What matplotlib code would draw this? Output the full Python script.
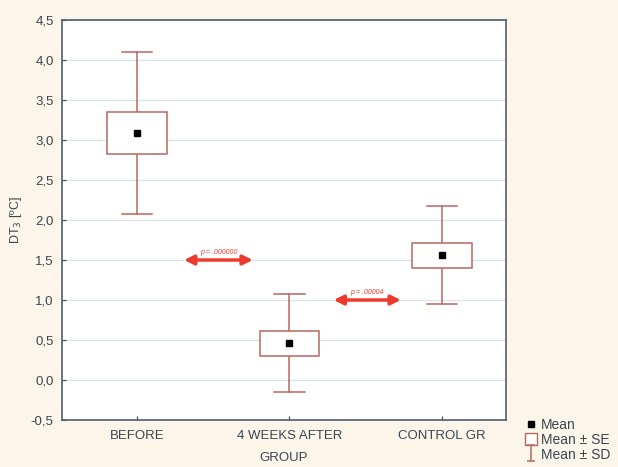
import matplotlib.pyplot as plt
from matplotlib.lines import Line2D
from matplotlib.patches import Rectangle, Patch
from matplotlib.path import Path

groups = ['BEFORE', '4 WEEKS AFTER', 'CONTROL GR']
means = [3.09, 0.46, 1.56]
se = [0.26, 0.155, 0.155]
sd = [1.01, 0.61, 0.61]

# significance arrows: (x start, x end, y level, label)
comparisons = [(1.31, 1.76, 1.5, 'p = .000000'), (2.29, 2.73, 1.0, 'p = .00004')]

plt.rcParams['font.family'] = ['Liberation Sans', 'DejaVu Sans']
box_col = '#b8675e'
txt_col = '#3a4550'
red = '#ee3a2c'

fig = plt.figure(figsize=(6.18, 4.67), dpi=100, facecolor='#fcf6ea')
ax = fig.add_axes([0.1003, 0.1006, 0.7187, 0.8565])
ax.set_facecolor('white')

box_w = 0.39
cap_w = 0.2
for i, (m, s, d) in enumerate(zip(means, se, sd)):
    x = i + 1
    ax.plot([x, x], [m + s, m + d], color=box_col, lw=1.1, zorder=3)
    ax.plot([x, x], [m - d, m - s], color=box_col, lw=1.1, zorder=3)
    ax.plot([x - cap_w / 2, x + cap_w / 2], [m + d, m + d], color=box_col, lw=1.1, zorder=3)
    ax.plot([x - cap_w / 2, x + cap_w / 2], [m - d, m - d], color=box_col, lw=1.1, zorder=3)
    ax.add_patch(Rectangle((x - box_w / 2, m - s), box_w, 2 * s, facecolor='white',
                           edgecolor=box_col, lw=1.1, zorder=3))
    ax.plot(x, m, 's', color='black', ms=5, zorder=4)

for x0, x1, y, lab in comparisons:
    ax.annotate('', xy=(x1, y), xytext=(x0, y),
                arrowprops=dict(arrowstyle='<|-|>', color=red, lw=2.5, mutation_scale=14,
                                shrinkA=0, shrinkB=0), zorder=5)
    ax.text((x0 + x1) / 2, y + 0.05, lab, color=red, fontsize=5, style='italic',
            ha='center', va='bottom', zorder=5)

ax.set_xlim(0.51, 3.42)
ax.set_ylim(-0.5, 4.5)
ax.set_xticks([1, 2, 3])
ax.set_xticklabels(groups)
yt = [-0.5 + 0.5 * k for k in range(11)]
ax.set_yticks(yt)
ax.set_yticklabels([('%.1f' % v).replace('.', ',') for v in yt])
ax.yaxis.grid(True, color='#d5e3ea', lw=0.8)
ax.set_axisbelow(True)
ax.tick_params(direction='in', length=3, colors=txt_col, labelsize=9.5, pad=6)
ax.tick_params(axis='x', pad=7.5)
for sp in ax.spines.values():
    sp.set_color('#4e5f6e')
    sp.set_linewidth(1.2)

ax.set_xlabel('GROUP', color=txt_col, fontsize=9.5, labelpad=7)
ax.set_ylabel('DT$_3$ [ºC]', color=txt_col, fontsize=9, labelpad=5)

i_marker = Path([(-0.5, 1), (0.5, 1), (0, 1), (0, -1), (-0.5, -1), (0.5, -1)],
                [Path.MOVETO, Path.LINETO, Path.MOVETO, Path.LINETO, Path.MOVETO, Path.LINETO])
handles = [
    Line2D([], [], marker='s', color='black', ls='none', ms=4),
    Patch(facecolor='white', edgecolor=box_col),
    Line2D([], [], marker=i_marker, color=box_col, ls='none', ms=12, mew=1.1),
]
fig.legend(handles, ['Mean', 'Mean ± SE', 'Mean ± SD'], loc='lower left',
           bbox_to_anchor=(0.83, -0.015), frameon=False, fontsize=10,
           labelcolor=txt_col, handlelength=0.8, handleheight=1.0,
           handletextpad=0.3, labelspacing=0.05)

fig.savefig('out.png', dpi=100, facecolor=fig.get_facecolor())
